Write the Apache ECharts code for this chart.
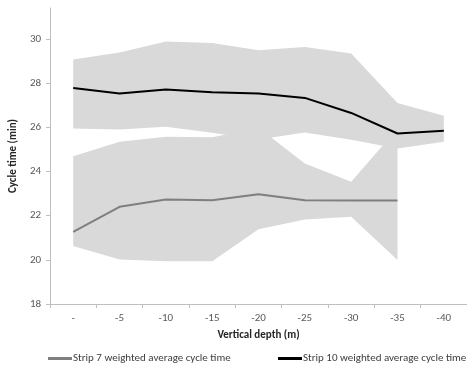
<!DOCTYPE html>
<html>
<head>
<meta charset="utf-8">
<script src="https://cdn.jsdelivr.net/npm/echarts@6/dist/echarts.min.js"></script>
<style>
  html, body { margin: 0; padding: 0; background: #fff; }
  #chart { width: 467px; height: 372px; }
</style>
</head>
<body>
<div id="chart"></div>
<script>
// Depth categories along the x axis
const depths = ['-', '-5', '-10', '-15', '-20', '-25', '-30', '-35', '-40'];

// Strip 7: weighted average cycle time and its min/max envelope (min)
const strip7Avg  = [21.27, 22.40, 22.73, 22.70, 22.97, 22.70, 22.69, 22.68, null];
const strip7Low  = [20.63, 20.02, 19.94, 19.94, 21.38, 21.83, 21.95, 19.99, null];
const strip7High = [24.69, 25.34, 25.57, 25.55, 25.98, 24.36, 23.53, 25.95, null];

// Strip 10: weighted average cycle time and its min/max envelope (min)
const strip10Avg  = [27.78, 27.53, 27.71, 27.59, 27.53, 27.33, 26.65, 25.72, 25.84];
const strip10Low  = [25.95, 25.90, 26.02, 25.75, 25.45, 25.76, 25.43, 25.04, 25.34];
const strip10High = [29.07, 29.38, 29.88, 29.82, 29.49, 29.64, 29.34, 27.10, 26.52];

// Y axis tick values
const yTicks = [18, 20, 22, 24, 26, 28, 30];

const FONT = "Carlito, 'Liberation Sans Narrow', 'Liberation Sans', sans-serif";
const BAND = '#d9d9d9';
const AXIS = '#bfbfbf';

const NAME7 = 'Strip 7 weighted average cycle time';
const NAME10 = 'Strip 10 weighted average cycle time';

function spread(lo, hi) {
  return hi.map((h, i) => (h == null || lo[i] == null) ? null : +(h - lo[i]).toFixed(3));
}

function bandBase(stack, data) {
  return {
    type: 'line', stack: stack, data: data, symbol: 'none', silent: true,
    lineStyle: { opacity: 0 }, z: 1
  };
}
function bandTop(stack, data) {
  return {
    type: 'line', stack: stack, data: data, symbol: 'none', silent: true,
    lineStyle: { opacity: 0 }, areaStyle: { color: BAND, opacity: 1 }, z: 1
  };
}

function legendFor(name, left) {
  return {
    data: [{ name: name, icon: 'rect' }],
    left: left, top: 348, itemWidth: 24, itemHeight: 3, itemGap: 0,
    textStyle: { fontFamily: FONT, fontSize: 11, color: '#404040', padding: [0, 0, 0, -4] }
  };
}

const chart = echarts.init(document.getElementById('chart'), null, { renderer: 'canvas' });

chart.setOption({
  animation: false,
  backgroundColor: '#ffffff',
  textStyle: { fontFamily: FONT },
  grid: { left: 50, right: -9, top: 8, bottom: 68, containLabel: false },
  legend: [legendFor(NAME7, 43), legendFor(NAME10, 273)],
  xAxis: {
    type: 'category',
    data: depths,
    boundaryGap: true,
    name: 'Vertical depth (m)',
    nameLocation: 'middle',
    nameGap: 26,
    nameTextStyle: { fontFamily: FONT, fontSize: 11, fontWeight: 'bold', color: '#262626' },
    axisLine: { lineStyle: { color: AXIS, width: 1 } },
    axisTick: { show: true, alignWithLabel: false, length: 4, lineStyle: { color: AXIS } },
    axisLabel: { fontFamily: FONT, fontSize: 11, color: '#595959', margin: 9 },
    splitLine: { show: false }
  },
  yAxis: {
    type: 'value',
    min: 18,
    max: 31.4,
    name: 'Cycle time (min)',
    nameLocation: 'middle',
    nameRotate: 90,
    nameGap: 26,
    nameTextStyle: { fontFamily: FONT, fontSize: 11, fontWeight: 'bold', color: '#262626' },
    axisLine: { show: true, lineStyle: { color: AXIS, width: 1 } },
    axisTick: { show: true, length: 4, lineStyle: { color: AXIS }, customValues: yTicks },
    axisLabel: { fontFamily: FONT, fontSize: 11, color: '#595959', margin: 9, customValues: yTicks },
    splitLine: { show: false }
  },
  series: [
    bandBase('band10', strip10Low),
    bandTop('band10', spread(strip10Low, strip10High)),
    bandBase('band7', strip7Low),
    bandTop('band7', spread(strip7Low, strip7High)),
    {
      name: NAME7, type: 'line', data: strip7Avg, symbol: 'none', z: 5,
      itemStyle: { color: '#7f7f7f' },
      lineStyle: { color: '#7f7f7f', width: 2 }
    },
    {
      name: NAME10, type: 'line', data: strip10Avg, symbol: 'none', z: 6,
      itemStyle: { color: '#000000' },
      lineStyle: { color: '#000000', width: 2 }
    }
  ]
});
</script>
</body>
</html>
